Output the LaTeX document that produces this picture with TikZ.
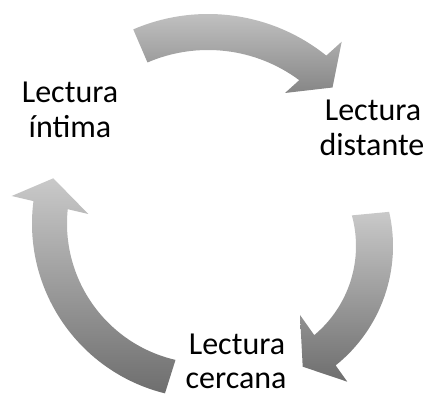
\documentclass[tikz,border=0pt]{standalone}
\usepackage{fontspec}
\setmainfont{Carlito}
\usetikzlibrary{calc}
\definecolor{arrowlight}{RGB}{201,201,201}
\definecolor{topdark}{RGB}{134,134,134}
\definecolor{arrowdark}{RGB}{110,110,110}
\begin{document}
\begin{tikzpicture}[x=1pt,y=1pt,
  txt/.style={font=\fontsize{32}{35}\selectfont, anchor=base, inner sep=0pt,
    text depth=0pt, text=black},
  cyclearrow/.style={top color=arrowlight, bottom color=arrowdark, draw=none},
]
\useasboundingbox (0,0) rectangle (425,395);

% centres of the three ring segments
\coordinate (ct) at (208,192);
\coordinate (cl) at (207,171.5);
\coordinate (cr) at (240,149);

% upper arrow, running clockwise to the right
\shade[cyclearrow, bottom color=topdark]
  ($(ct)+(113.3:189)$) arc[start angle=113.3, end angle=51.25, radius=189]
  -- (341.7,353.3) -- (332.5,307.5) -- (285,302)
  -- ($(ct)+(53.4:153)$) arc[start angle=53.4, end angle=113.3, radius=153]
  -- cycle;

% right arrow, running down to the bottom label
\shade[cyclearrow]
  ($(cr)+(12.9:153)$) arc[start angle=12.9, end angle=-51.3, radius=153]
  -- (347.3,13.3) -- (302.7,28.3) -- (300,80)
  -- ($(cr)+(-50.2:116)$) arc[start angle=-50.2, end angle=15.3, radius=116]
  -- cycle;

% left arrow, running up to the top-left label
\shade[cyclearrow]
  ($(cl)+(256.1:175)$) arc[start angle=256.1, end angle=172.65, radius=175]
  -- (11.7,199) -- (53.3,216.7) -- (88.3,181)
  -- ($(cl)+(174.14:140)$) arc[start angle=174.14, end angle=257, radius=140]
  -- cycle;

% labels
\node[txt] (intA) at (70,292) {Lectura};
\node[txt] (intB) at (70,257) {íntima};
\node[txt] (disA) at (373,274) {Lectura};
\node[txt] (disB) at (372,239) {distante};
\node[txt] (cerA) at (237,40.5) {Lectura};
\node[txt] (cerB) at (236,6.5) {cercana};
\end{tikzpicture}
\end{document}
